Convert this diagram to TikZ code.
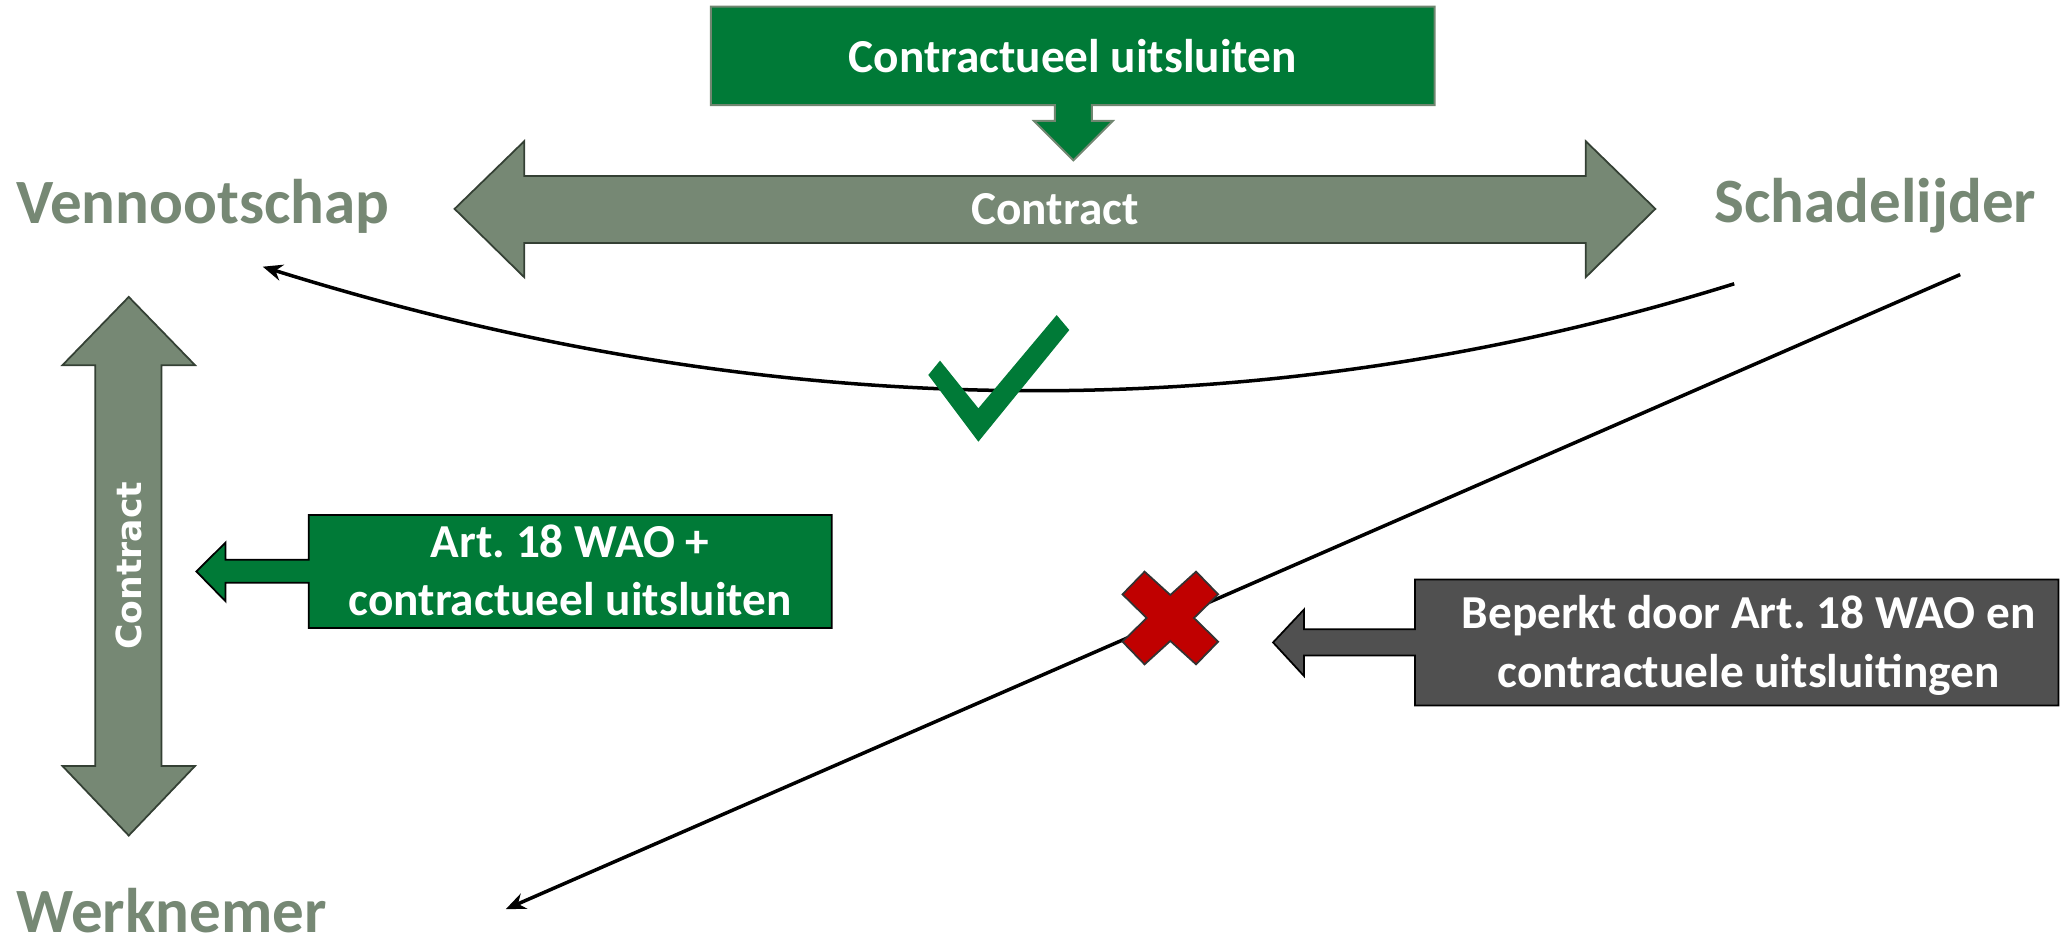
\documentclass[tikz,border=0pt]{standalone}
\usepackage{fontspec}
\setmainfont{Carlito}
\newfontfamily\dejavu{DejaVu Sans}
\usetikzlibrary{arrows.meta}
\definecolor{sage}{RGB}{118,136,116}
\definecolor{sageedge}{RGB}{52,64,52}
\definecolor{sagelight}{RGB}{112,134,112}
\definecolor{dgreen}{RGB}{0,122,55}
\definecolor{dgray}{RGB}{80,80,80}
\definecolor{xred}{RGB}{192,0,0}
\tikzset{
  lbl/.style={inner sep=0pt, font=\fontsize{28.8}{34}\selectfont\bfseries, text=sage},
  boxtxt/.style={inner sep=0pt, font=\fontsize{21.6}{26.5}\selectfont\bfseries, text=white, align=center},
  conn/.style={line width=1.6pt, -{Stealth[length=9pt,width=7.5pt]}},
  sagearrow/.style={fill=sage, draw=sageedge, line width=0.8pt, line join=miter},
  greencallout/.style={fill=dgreen, draw=black, line width=0.8pt, line join=miter},
  graycallout/.style={fill=dgray, draw=black, line width=0.8pt, line join=miter},
  topcallout/.style={fill=dgreen, draw=sagelight, line width=0.9pt, line join=miter},
}
\frenchspacing
\begin{document}
\begin{tikzpicture}[x=0.6pt, y=-0.6pt]
\useasboundingbox (0,0) rectangle (1568,714);

% labels
\node[lbl, anchor=base west] (venn) at (12,170) {Vennootschap};
\node[lbl, anchor=base west] (schade) at (1304.6,169) {Schadelijder};
\node[lbl, anchor=base west] (werk) at (12,710) {Werknemer};

% horizontal contract arrow
\path[sagearrow] (346,159) -- (399,107.5) -- (399,134) -- (1207,134) -- (1207,107.5)
  -- (1260,159) -- (1207,211) -- (1207,185) -- (399,185) -- (399,211) -- cycle;
\node[boxtxt, anchor=base] (contracth) at (803,171) {Contract};

% top callout: box with down arrow
\path[topcallout] (541,5) -- (1092,5) -- (1092,80) -- (831,80) -- (831,92) -- (847,92)
  -- (817,122) -- (787,92) -- (803,92) -- (803,80) -- (541,80) -- cycle;
\node[boxtxt, anchor=base] (title) at (816.5,55.5) {Contractueel uitsluiten};

% vertical contract arrow
\path[sagearrow] (98,226) -- (148.5,278) -- (123,278) -- (123,583) -- (148.5,583)
  -- (98,636) -- (47.5,583) -- (72.5,583) -- (72.5,278) -- (47.5,278) -- cycle;
\node[inner sep=0pt, rotate=90, text=white, font=\dejavu\fontsize{15.8}{18}\selectfont\bfseries] (contractv) at (98,430.5) {Contract};

% green callout (Art. 18 WAO)
\path[greencallout] (235,392) -- (633,392) -- (633,478) -- (235,478) -- (235,443.5)
  -- (171.6,443.5) -- (171.6,457.6) -- (149.5,435) -- (171.6,413) -- (171.6,426)
  -- (235,426) -- cycle;
\node[boxtxt, anchor=base] (art) at (434,468.6) {Art.\ 18 WAO +\\contractueel uitsluiten};

% gray callout
\path[graycallout] (1077,441) -- (1566.8,441) -- (1566.8,537) -- (1077,537) -- (1077,499)
  -- (992.5,499) -- (992.5,514.5) -- (969,489) -- (992.5,464) -- (992.5,479)
  -- (1077,479) -- cycle;
\node[boxtxt, anchor=base, font=\fontsize{21.6}{27}\selectfont\bfseries] (beperkt) at (1331,523.4) {Beperkt door Art.\ 18 WAO en\\contractuele uitsluitingen};

% connectors
\coordinate (c1s) at (1320,216);
\coordinate (c1e) at (200,203);
\draw[conn] (c1s) .. controls (960,328.3) and (586.7,324) .. (c1e);
\coordinate (c2s) at (1492,209);
\coordinate (c2e) at (385,692);
\draw[conn] (c2s) -- (c2e);

% check mark
\fill[dgreen] (706.6,285.4) -- (715.5,274.5) -- (744.7,310.8) -- (804.3,239.8)
  -- (813.9,251.2) -- (744.7,336.2) -- cycle;

% red cross
\begin{scope}[shift={(890.8,470.4)}]
\path[fill=xred, draw=black!80, line width=0.8pt, line join=miter]
  (-19.6,-35.3) -- (0,-17.5) -- (19.6,-35.3) -- (36.4,-18) -- (18,0) -- (36.4,18)
  -- (19.6,35.3) -- (0,17.5) -- (-19.6,35.3) -- (-36.4,18) -- (-18,0) -- (-36.4,-18) -- cycle;
\end{scope}
\end{tikzpicture}
\end{document}
